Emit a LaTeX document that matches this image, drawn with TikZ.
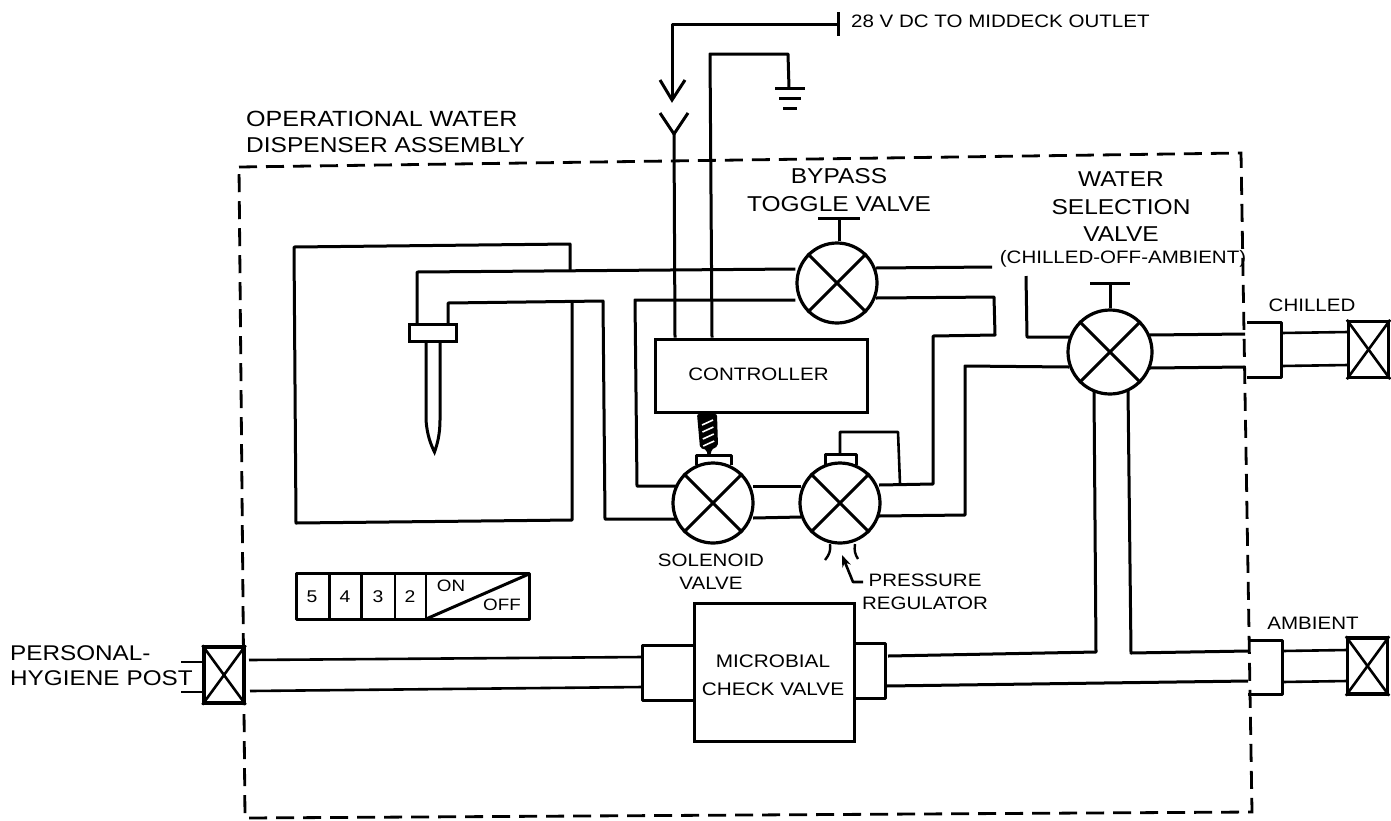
\documentclass[tikz,border=0pt]{standalone}
\usepackage{fontspec}
\setmainfont{Liberation Sans}[FakeStretch=1.14]
\usetikzlibrary{arrows.meta}
\tikzset{
  pipe/.style={line width=3pt,line join=round},
  thin pipe/.style={line width=2.6pt,line join=round},
  border/.style={line width=2.8pt,dash pattern=on 18pt off 9pt},
  valve/.style={circle,draw,line width=3.2pt,minimum size=80pt,inner sep=0pt,fill=white},
  lbl/.style={inner sep=0pt,align=center,font=\fontsize{21.5}{27.5}\selectfont},
  small lbl/.style={inner sep=0pt,align=center,font=\fontsize{18}{23}\selectfont}
}
\newcommand{\crossvalve}[1]{
  \draw[pipe](#1.45)--(#1.225);
  \draw[pipe](#1.135)--(#1.-45);
}
\newcommand{\crossbox}[3]{
  \node[draw,line width=3.4pt,minimum width=40pt,minimum height=56pt,inner sep=0pt](#1)at(#2,#3){};
  \draw[thin pipe](#1.north west)--(#1.south east);
  \draw[thin pipe](#1.north east)--(#1.south west);
}
\begin{document}
\begin{tikzpicture}[x=1pt,y=-1pt]
  \useasboundingbox(0,0)rectangle(1391,820);
  % assembly outline
  \coordinate(bTL)at(239,167);
  \coordinate(bTR)at(1241,153);
  \coordinate(bBR)at(1252,812);
  \coordinate(bBL)at(245,818);
  \draw[border](bTL)--(bTR)--(bBR)--(bBL)--cycle;
  \node[lbl,anchor=west,font=\fontsize{22}{27.5}\selectfont](lblAssy)at(246,119){OPERATIONAL WATER};
  \node[lbl,anchor=west](lblAssyB)at(246,145){DISPENSER ASSEMBLY};
  % valves
  \node[valve](bypass)at(837,283){};
  \node[valve,minimum size=84pt](select)at(1110,352){};
  \node[valve](solenoid)at(713,503){};
  \node[valve](regulator)at(840,503){};
  \crossvalve{bypass}
  \crossvalve{select}
  \crossvalve{solenoid}
  \crossvalve{regulator}
  % handles
  \coordinate(bypassBar)at(839,218);
  \coordinate(selectBar)at(1110,283);
  \draw[pipe](bypassBar)--(bypassBar|-bypass.north);
  \draw[pipe]([xshift=-21pt]bypassBar)--([xshift=21pt]bypassBar);
  \draw[pipe](select.north)--(selectBar);
  \draw[pipe]([xshift=-20pt]selectBar)--([xshift=20pt]selectBar);
  % valve caps
  \draw[pipe](696,465)--(696,455)--(731,455)--(731,465);
  \draw[pipe](825,465)--(825,454)--(856,454)--(856,465);
  % controller and spring
  \node[draw,line width=3pt,minimum width=212pt,minimum height=73pt,inner sep=0pt](controller)at(761,375.5){};
  \node[small lbl](lblController)at(758.5,374){CONTROLLER};
  \fill[rounded corners=2pt](697,414)--(717,414)--(718,446)--(711,450)--(711,455)--(707,455)--(707,450)--(700,448)--cycle;
  \foreach \i in {0,1,2,3}{
    \draw[white,line width=1.6pt]({702+0.4*\i},{425+7*\i})--({713+0.4*\i},{420+7*\i});
  }
  % tank and dispenser needle
  \coordinate(tkA)at(570,270);
  \coordinate(tkB)at(572,303);
  \draw[pipe](tkA)--(570,244)--(294,247)--(296,523)--(572,520)--(tkB);
  \coordinate(ndA)at(417,323);
  \coordinate(ndB)at(448,323);
  \draw[pipe](bypass.west|-0,269)--(417,272)--(ndA);
  \draw[pipe](ndB)--(448,303)--(603,301)--(605,519)--(676,519);
  \node[draw,line width=3pt,minimum width=47pt,minimum height=17pt,inner sep=0pt](collar)at(432.5,332.5){};
  \draw[line width=3pt,line join=miter](426,341)--(426,420)..controls(427,435)and(431,445)..(434.5,452)..controls(437,445)and(440,435)..(440,420)--(440,341);
  % water lines round the valves
  \draw[pipe](bypass.west|-0,300)--(635,300)--(637,486)--(676,486);
  \draw[pipe](753,486)--(801,486);
  \draw[pipe](753,518)--(801,517);
  \draw[thin pipe](840,454)--(840,432)--(898,432)--(900,484);
  \draw[pipe](879,485)--(933,484)--(933,336)--(995,335)--(994,297)--(876,298);
  \draw[pipe](879,516)--(965,515)--(965,366)--(1069,367);
  \draw[pipe](876,268)--(992,267);
  \draw[pipe](1026,276)--(1027,337)--(1071,337);
  \draw[pipe](1149,335)--(1245,334);
  \draw[pipe](1150,368)--(1245,367);
  \draw[pipe](1094,392)--(1096,652)--(888,656);
  \draw[pipe](1128,390)--(1131,653)--(1248,651);
  \draw[pipe](886,686)--(1248,681);
  % couplings at the right
  \draw[pipe](1247,322)--(1281,322)--(1281,377)--(1247,377);
  \draw[pipe](1248,640)--(1282,640)--(1282,694)--(1248,694);
  \crossbox{chilledEnd}{1368.5}{349.5}
  \crossbox{ambientEnd}{1367.5}{666}
  \draw[thin pipe](1281,333)--(1348,332);
  \draw[thin pipe](1281,366)--(1348,365);
  \draw[thin pipe](1282,651)--(1347,650);
  \draw[thin pipe](1282,682)--(1347,681);
  % microbial check valve
  \node[draw,line width=3pt,minimum width=160pt,minimum height=138pt,inner sep=0pt](mcv)at(774,672.5){};
  \node[small lbl,font=\fontsize{18.2}{28}\selectfont](lblMcv)at(773,675){MICROBIAL\\CHECK VALVE};
  \draw[pipe](694,645)--(642,645)--(642,700)--(694,700);
  \draw[pipe](854,643)--(885,643)--(885,698)--(854,698);
  % personal hygiene post
  \crossbox{postEnd}{224}{675}
  \draw[thin pipe](181,662)--(204,662);
  \draw[thin pipe](181,692)--(204,692);
  \draw[thin pipe](249,660)--(642,657);
  \draw[thin pipe](250,691)--(642,687);
  \node[lbl,anchor=west,text width=190pt,align=left,font=\fontsize{21.3}{25}\selectfont](lblPost)at(10,665.5){PERSONAL-\\HYGIENE POST};
  % switch panel
  \draw[pipe](296,573)rectangle(529,619);
  \foreach \x in {329.5,361.5,395,426}{
    \draw[thin pipe](\x,573)--(\x,619);
  }
  \draw[pipe](426,619)--(529,574);
  \foreach \x/\t in {312/5,345/4,378/3,410/2}{
    \node[small lbl,font=\fontsize{17}{18}\selectfont](sw\t)at(\x,597){\t};
  }
  \node[small lbl,font=\fontsize{16.5}{18}\selectfont](lblOn)at(451,586){ON};
  \node[small lbl,font=\fontsize{16.5}{18}\selectfont](lblOff)at(502,605){OFF};
  % power wiring
  \coordinate(conn)at(674,134);
  \draw[pipe](conn)--(controller.north-|675,0);
  \draw[pipe](controller.north-|712,0)--(710,54)--(788,54)--(789,88);
  \draw[pipe](838,24)--(672,24)--(672,100);
  \draw[line width=3pt,line join=miter](660,80)--(672,100)--(685,80);
  \draw[pipe](660,113)--(conn)--(688,113);
  \draw[line width=3pt](838,12)--(838,36);
  \draw[pipe](775,88)--(805,88);
  \draw[pipe](779,98)--(801,98);
  \draw[pipe](783,108)--(797,108);
  \node[small lbl,anchor=west](lblPower)at(851,21){28 V DC TO MIDDECK OUTLET};
  % regulator vents and pointer
  \draw[line width=2.4pt](830,544)..controls(831,551)and(829,555)..(825,560);
  \draw[line width=2.4pt](855,544)..controls(854,551)and(855,554)..(858,559);
  \draw[line width=2.6pt,line join=round,-{Stealth[length=12pt,width=9pt]}](863,582)--(853,582)--(842,555);
  % labels
  \node[lbl](lblBypass)at(839,190){BYPASS\\TOGGLE VALVE};
  \node[lbl](lblWater)at(1121,207){WATER\\SELECTION\\VALVE};
  \node[small lbl](lblChoice)at(1123,259){(CHILLED-OFF-AMBIENT)};
  \node[small lbl](lblChilled)at(1312,305){CHILLED};
  \node[small lbl](lblAmbient)at(1313,623){AMBIENT};
  \node[small lbl](lblSolenoid)at(711,572){SOLENOID\\VALVE};
  \node[small lbl](lblPressure)at(925,591.5){PRESSURE\\REGULATOR};
\end{tikzpicture}
\end{document}
